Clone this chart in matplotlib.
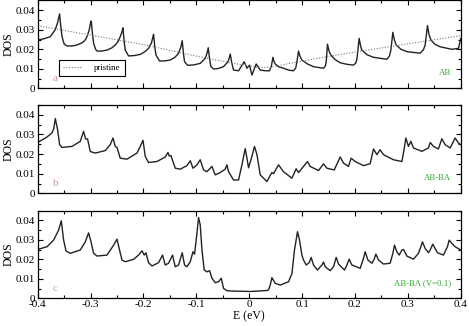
import matplotlib
matplotlib.use("Agg")
import matplotlib.pyplot as plt
from matplotlib.ticker import MultipleLocator, FuncFormatter

plt.rcParams['font.family'] = ['Liberation Serif', 'DejaVu Serif']

# ---------------- data ----------------
pristine_E = [-0.4, -0.2, -0.1, -0.03, 0.02, 0.04, 0.1, 0.2, 0.3, 0.4]
pristine_D = [0.0321, 0.0224, 0.0165, 0.0128, 0.0106, 0.0108, 0.014, 0.0186, 0.0228, 0.027]

ab_E = [-0.400, -0.388, -0.376, -0.367, -0.3625, -0.3605, -0.3586, -0.3565, -0.354, -0.350,
        -0.3446, -0.335, -0.3257, -0.318, -0.3132, -0.309, -0.3057, -0.3025, -0.3006, -0.2987,
        -0.2965, -0.2943, -0.2905, -0.2879, -0.279, -0.269, -0.260, -0.2533, -0.248, -0.2439,
        -0.2405, -0.2388, -0.2365, -0.2344, -0.2282, -0.217, -0.206, -0.197, -0.1904, -0.185,
        -0.1809, -0.1785, -0.1764, -0.1696, -0.159, -0.1493, -0.140, -0.1336, -0.1295, -0.1267,
        -0.1245, -0.1223, -0.1166, -0.105, -0.0926, -0.0832, -0.080, -0.0775, -0.075, -0.0724,
        -0.0675, -0.058, -0.0486, -0.0403, -0.0375, -0.0359, -0.033, -0.0297, -0.0202, -0.0095,
        -0.0043, 0.0006, 0.0051, 0.0132, 0.0208, 0.0302, 0.0384, 0.042, 0.0448, 0.0468,
        0.0491, 0.056, 0.0648, 0.075, 0.0837, 0.088, 0.0902, 0.0932, 0.096, 0.0996,
        0.110, 0.1215, 0.1405, 0.144, 0.1456, 0.148, 0.151, 0.1544, 0.162, 0.172,
        0.185, 0.1972, 0.2015, 0.2036, 0.2079, 0.2105, 0.213, 0.223, 0.235, 0.2603,
        0.265, 0.2679, 0.2716, 0.2745, 0.2779, 0.287, 0.2981, 0.3233, 0.3295, 0.3327,
        0.3371, 0.340, 0.3435, 0.351, 0.3611, 0.3832, 0.3957, 0.400]
ab_D = [0.0248, 0.0254, 0.0265, 0.030, 0.0335, 0.0359, 0.0381, 0.032, 0.0265, 0.0227,
        0.0217, 0.0217, 0.0222, 0.0231, 0.0239, 0.0252, 0.0273, 0.030, 0.033, 0.0345,
        0.028, 0.0231, 0.020, 0.0191, 0.0191, 0.0196, 0.0207, 0.0222, 0.024, 0.0265,
        0.029, 0.031, 0.024, 0.0196, 0.0166, 0.0168, 0.0174, 0.0188, 0.0205, 0.0232,
        0.0277, 0.021, 0.0171, 0.014, 0.0141, 0.0145, 0.016, 0.018, 0.021, 0.0244,
        0.018, 0.0136, 0.0118, 0.012, 0.0128, 0.0154, 0.0178, 0.0208, 0.015, 0.0111,
        0.0099, 0.0102, 0.0111, 0.0136, 0.0158, 0.0176, 0.013, 0.0094, 0.009, 0.0136,
        0.0103, 0.0119, 0.0068, 0.0125, 0.0094, 0.009, 0.009, 0.0115, 0.0159, 0.0138,
        0.0125, 0.011, 0.0103, 0.0093, 0.009, 0.0105, 0.0136, 0.0191, 0.0165, 0.0145,
        0.0125, 0.0111, 0.0103, 0.0115, 0.0136, 0.0226, 0.019, 0.0171, 0.0148, 0.0131,
        0.0123, 0.0119, 0.013, 0.0149, 0.0256, 0.0218, 0.0196, 0.0172, 0.0159, 0.0149,
        0.0165, 0.0196, 0.0287, 0.0248, 0.0222, 0.020, 0.0188, 0.018, 0.0198, 0.0222,
        0.0321, 0.0275, 0.0248, 0.0226, 0.0213, 0.020, 0.0205, 0.0255]

abba_E = [-0.400, -0.3824, -0.373, -0.3696, -0.3667, -0.3624, -0.3586, -0.3541, -0.3352, -0.3195,
          -0.3132, -0.3095, -0.3057, -0.3006, -0.2911, -0.2722, -0.2628, -0.2577, -0.2533, -0.2501,
          -0.2439, -0.2312, -0.2123, -0.206, -0.2009, -0.1966, -0.1904, -0.1745, -0.1588, -0.1537,
          -0.1512, -0.148, -0.1399, -0.1304, -0.1178, -0.1115, -0.1064, -0.0989, -0.0926, -0.0864,
          -0.080, -0.0737, -0.0705, -0.0643, -0.0548, -0.0454, -0.0422, -0.0391, -0.0297, -0.0202,
          -0.0138, -0.0076, -0.0043, -0.0013, 0.0051, 0.010, 0.0146, 0.0208, 0.0335, 0.0384,
          0.0429, 0.0459, 0.0554, 0.0648, 0.0807, 0.0888, 0.0932, 0.1102, 0.1153, 0.131,
          0.1405, 0.1469, 0.1607, 0.172, 0.1783, 0.1877, 0.1928, 0.2004, 0.2161, 0.2287,
          0.235, 0.2414, 0.2476, 0.2539, 0.2728, 0.2887, 0.293, 0.2962, 0.3011, 0.3057,
          0.3106, 0.3265, 0.3389, 0.3422, 0.3484, 0.3578, 0.3643, 0.3705, 0.380, 0.3862,
          0.3894, 0.3957, 0.400]
abba_D = [0.0259, 0.0287, 0.0308, 0.033, 0.0381, 0.0325, 0.0248, 0.0234, 0.0239, 0.0265,
          0.0316, 0.0277, 0.0277, 0.0213, 0.0205, 0.0218, 0.0248, 0.0282, 0.0239, 0.0234,
          0.0179, 0.0174, 0.0205, 0.0239, 0.027, 0.0188, 0.0157, 0.0162, 0.0185, 0.0208,
          0.019, 0.0192, 0.0128, 0.0123, 0.0141, 0.0166, 0.0128, 0.0145, 0.0171, 0.0119,
          0.011, 0.0128, 0.0137, 0.0094, 0.0106, 0.0123, 0.0145, 0.011, 0.0068, 0.0068,
          0.0145, 0.0228, 0.0179, 0.0130, 0.0188, 0.0239, 0.0197, 0.0094, 0.006, 0.0085,
          0.0106, 0.010, 0.0145, 0.011, 0.0077, 0.0125, 0.0106, 0.0162, 0.0137, 0.0116,
          0.015, 0.0128, 0.0119, 0.0185, 0.0154, 0.0137, 0.0179, 0.0162, 0.0141, 0.0151,
          0.0226, 0.0197, 0.0222, 0.0197, 0.0171, 0.0162, 0.0226, 0.0282, 0.0239, 0.0265,
          0.0231, 0.0214, 0.0231, 0.0259, 0.0239, 0.0226, 0.0278, 0.0248, 0.0231, 0.0265,
          0.0282, 0.0256, 0.0248]

abbav_E = [-0.400, -0.3824, -0.3699, -0.3605, -0.3554, -0.351, -0.3465, -0.3384, -0.3195, -0.310,
           -0.3038, -0.2992, -0.2943, -0.2879, -0.269, -0.2565, -0.2501, -0.2452, -0.2406, -0.2344,
           -0.2187, -0.2093, -0.2028, -0.1985, -0.1953, -0.1904, -0.1839, -0.1715, -0.1639, -0.1588,
           -0.1526, -0.145, -0.1399, -0.1336, -0.1267, -0.1223, -0.1178, -0.1115, -0.1064, -0.1034,
           -0.0989, -0.0958, -0.0926, -0.0894, -0.0851, -0.080, -0.075, -0.0705, -0.0643, -0.058,
           -0.0529, -0.0486, -0.0422, -0.0297, 0.0019, 0.0335, 0.0365, 0.0397, 0.0429, 0.0491,
           0.0586, 0.0743, 0.0807, 0.0856, 0.0913, 0.0951, 0.0996, 0.1026, 0.1078, 0.1134,
           0.1172, 0.1215, 0.1291, 0.1374, 0.1405, 0.1437, 0.1531, 0.1594, 0.1645, 0.1688,
           0.1802, 0.1847, 0.189, 0.1941, 0.2098, 0.2161, 0.2193, 0.2244, 0.232, 0.2363,
           0.2395, 0.2444, 0.2539, 0.2665, 0.2716, 0.2747, 0.2792, 0.2836, 0.2887, 0.2917,
           0.2981, 0.3106, 0.320, 0.3246, 0.3276, 0.3327, 0.3389, 0.3422, 0.3471, 0.3497,
           0.3559, 0.3673, 0.3749, 0.3781, 0.3832, 0.3894, 0.400]
abbav_D = [0.0251, 0.0265, 0.0299, 0.035, 0.0398, 0.0299, 0.0243, 0.0231, 0.0248, 0.029,
           0.0336, 0.029, 0.0231, 0.0217, 0.0222, 0.0273, 0.0304, 0.0248, 0.0196, 0.0188,
           0.020, 0.0222, 0.0244, 0.0222, 0.0234, 0.0183, 0.0166, 0.0183, 0.0222, 0.0171,
           0.018, 0.0222, 0.0162, 0.0171, 0.0234, 0.0171, 0.0162, 0.0188, 0.0239, 0.0227,
           0.0333, 0.0415, 0.0376, 0.0248, 0.0145, 0.0136, 0.0142, 0.0103, 0.008, 0.0085,
           0.0103, 0.0051, 0.0039, 0.0037, 0.0035, 0.0040, 0.0043, 0.0068, 0.0106, 0.0077,
           0.0068, 0.0085, 0.0126, 0.0248, 0.0342, 0.0299, 0.0222, 0.0197, 0.0171, 0.0183,
           0.021, 0.0171, 0.0145, 0.0171, 0.0186, 0.0162, 0.0142, 0.0162, 0.021, 0.0176,
           0.0145, 0.0171, 0.0201, 0.0171, 0.0154, 0.0205, 0.0239, 0.0197, 0.018, 0.0201,
           0.0227, 0.0197, 0.0176, 0.018, 0.0231, 0.0273, 0.0239, 0.0222, 0.0248, 0.0251,
           0.0217, 0.0201, 0.0231, 0.0265, 0.029, 0.0256, 0.0234, 0.0248, 0.0278, 0.0265,
           0.0234, 0.0222, 0.0265, 0.0299, 0.0282, 0.0265, 0.0248]

panel_letters = ['a', 'b', 'c']
panel_names = ['AB', 'AB-BA', 'AB-BA (V=0.1)']
x_label = 'E (eV)'
y_label = 'DOS'
legend_label = 'pristine'

# ---------------- figure ----------------
fig = plt.figure(figsize=(4.69, 3.26), dpi=100)
left, width = 0.0804, 0.902
rects = [(left, 0.729, width, 0.2695),
         (left, 0.407, width, 0.2709),
         (left, 0.085, width, 0.2687)]
axes = [fig.add_axes(r) for r in rects]

curves = [(ab_E, ab_D), (abba_E, abba_D), (abbav_E, abbav_D)]
line_color = '#222222'

yfmt = FuncFormatter(lambda v, p: '0' if abs(v) < 1e-9 else f'{v:.2f}')
xfmt = FuncFormatter(lambda v, p: '0' if abs(v) < 1e-9 else f'{v:.1f}')

for i, ax in enumerate(axes):
    E, D = curves[i]
    ax.plot(E, D, color=line_color, lw=1.0, solid_joinstyle='round')
    if i == 0:
        ax.plot(pristine_E, pristine_D, color='#777777', lw=0.8, ls=(0, (1, 1.5)),
                label=legend_label)
        leg = ax.legend(loc='lower left', bbox_to_anchor=(0.05, 0.14), fontsize=6.3,
                        frameon=True, fancybox=False, edgecolor='black', framealpha=1,
                        handlelength=2.2, handletextpad=1.4, borderpad=0.45,
                        borderaxespad=0)
        leg.get_frame().set_linewidth(0.8)
    ax.set_xlim(-0.4, 0.4)
    ax.set_ylim(0, 0.045)
    ax.xaxis.set_major_locator(MultipleLocator(0.1))
    ax.xaxis.set_minor_locator(MultipleLocator(0.05))
    ax.yaxis.set_major_locator(MultipleLocator(0.01))
    ax.yaxis.set_minor_locator(MultipleLocator(0.005))
    ax.yaxis.set_major_formatter(yfmt)
    ax.xaxis.set_major_formatter(xfmt)
    ax.tick_params(which='both', direction='in', top=True, right=True, width=0.8)
    ax.tick_params(which='major', length=3.6, labelsize=8)
    ax.tick_params(which='minor', length=2.2)
    ax.tick_params(axis='y', pad=2)
    ax.tick_params(axis='x', pad=1.5)
    if i < 2:
        ax.tick_params(axis='x', labelbottom=False)
    for s in ax.spines.values():
        s.set_linewidth(0.9)
    ax.set_ylabel(y_label, fontsize=8.5, labelpad=1)
    ax.text(0.035, 0.11, panel_letters[i], transform=ax.transAxes, fontsize=8,
            color='#c8a0a0', ha='left', va='center')
    ax.text(0.977, 0.17, panel_names[i], transform=ax.transAxes, fontsize=6.3,
            color='#33aa33', ha='right', va='center')

axes[2].set_xlabel(x_label, fontsize=8.5, labelpad=1)

fig.savefig('out.png', dpi=100)
